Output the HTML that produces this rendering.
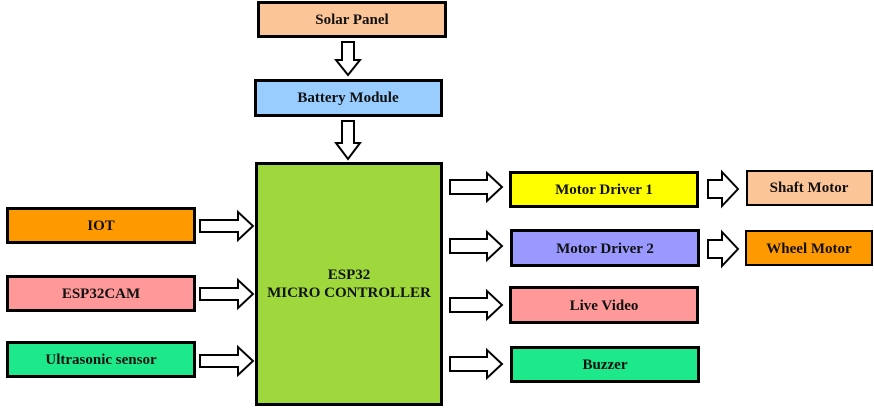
<!DOCTYPE html>
<html><head><style>
body{margin:0;background:#fff;}
svg{display:block;}
text{font-family:"Liberation Serif",serif;font-weight:bold;font-size:15px;fill:#111;text-anchor:middle;dominant-baseline:central;}
</style></head><body>
<svg width="874" height="409" xmlns="http://www.w3.org/2000/svg">
<g stroke="#000" stroke-width="3">
<rect x="258.5" y="2.5" width="187" height="34" fill="#fcc597"/>
<rect x="255.5" y="80.5" width="186" height="35" fill="#99ccff"/>
<rect x="256.5" y="163.5" width="185" height="241" fill="#9fd83c"/>
<rect x="7.5" y="208.5" width="187" height="34" fill="#ff9900"/>
<rect x="7.5" y="276.5" width="187" height="34" fill="#ff9999"/>
<rect x="7.5" y="342.5" width="187" height="34" fill="#1de88a"/>
<rect x="510.5" y="172.5" width="187" height="34" fill="#ffff00"/>
<rect x="511.5" y="230.5" width="187" height="35" fill="#9999ff"/>
<rect x="510.5" y="287.5" width="187" height="35" fill="#ff9999"/>
<rect x="511.5" y="347.5" width="187" height="34" fill="#1de88a"/>
</g>
<g stroke="#000" stroke-width="2">
<rect x="747" y="171" width="125" height="34" fill="#fcc597"/>
<rect x="746" y="231" width="126" height="34" fill="#ff9900"/>
</g>
<g fill="#fff" stroke="#000" stroke-width="2" stroke-linejoin="miter">
<polygon points="342,42 354,42 354,60 360,60 348,75 336,60 342,60"/>
<polygon points="342,121 354,121 354,143 360,143 348,159 336,143 342,143"/>
<polygon points="200,220 238,220 238,212 253,226 238,240 238,232 200,232"/>
<polygon points="200,288 238,288 238,280 253,294 238,308 238,300 200,300"/>
<polygon points="200,355 238,355 238,347 253,361 238,375 238,367 200,367"/>
<polygon points="450,180 487,180 487,173 502,187 487,201 487,194 450,194"/>
<polygon points="450,239 487,239 487,232 502,246 487,260 487,253 450,253"/>
<polygon points="450,298 487,298 487,291 502,305 487,319 487,312 450,312"/>
<polygon points="450,357 487,357 487,350 502,364 487,378 487,371 450,371"/>
<polygon points="708,180 722,180 722,172 738,189 722,206 722,198 708,198"/>
<polygon points="708,240 722,240 722,232 738,249 722,266 722,258 708,258"/>
</g>
<text x="352" y="20">Solar Panel</text>
<text x="348" y="98">Battery Module</text>
<text x="349" y="275">ESP32</text>
<text x="349" y="293">MICRO CONTROLLER</text>
<text x="101" y="226">IOT</text>
<text x="101" y="294">ESP32CAM</text>
<text x="101" y="360">Ultrasonic sensor</text>
<text x="604" y="190">Motor Driver 1</text>
<text x="605" y="249">Motor Driver 2</text>
<text x="604" y="306">Live Video</text>
<text x="605" y="365">Buzzer</text>
<text x="809" y="188">Shaft Motor</text>
<text x="809" y="249">Wheel Motor</text>
</svg>
</body></html>
